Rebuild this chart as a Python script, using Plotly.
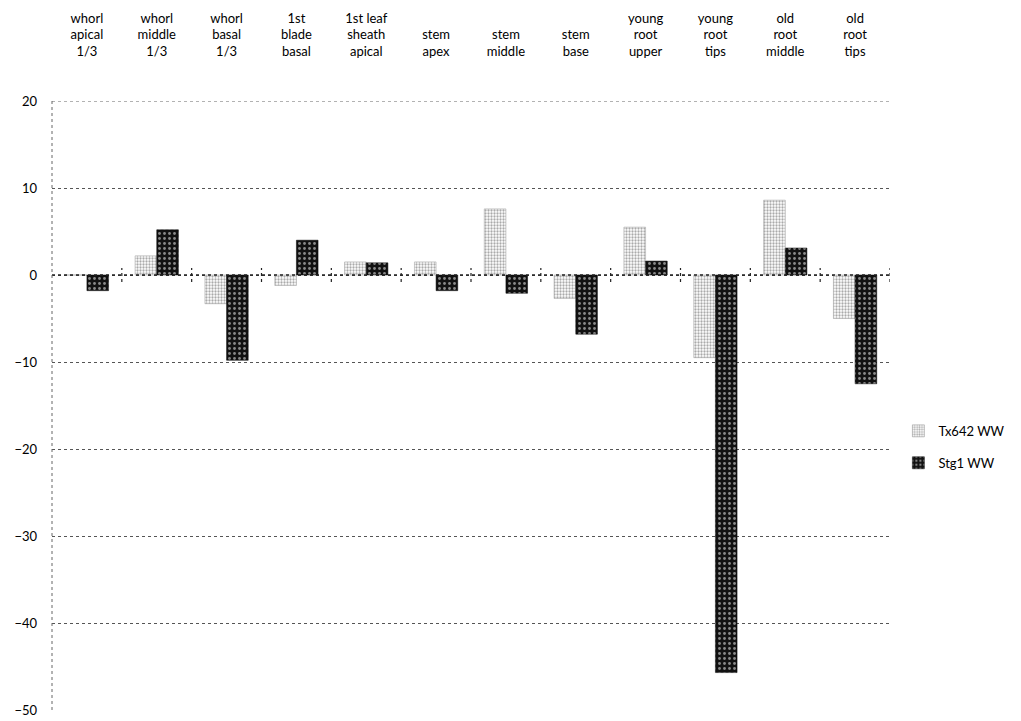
import plotly.graph_objects as go

categories = ["whorl<br>apical<br>1/3", "whorl<br>middle<br>1/3", "whorl<br>basal<br>1/3",
              "1st<br>blade<br>basal", "1st leaf<br>sheath<br>apical", "stem<br>apex",
              "stem<br>middle", "stem<br>base", "young<br>root<br>upper", "young<br>root<br>tips",
              "old<br>root<br>middle", "old<br>root<br>tips"]
tx642_ww = [0.0, 2.2, -3.3, -1.2, 1.5, 1.5, 7.6, -2.7, 5.5, -9.5, 8.6, -5.0]
stg1_ww = [-1.8, 5.2, -9.8, 4.0, 1.4, -1.8, -2.1, -6.8, 1.6, -45.7, 3.1, -12.5]
y_ticks = [20, 10, 0, -10, -20, -30, -40, -50]

idx = list(range(len(categories)))

fig = go.Figure()
fig.add_trace(go.Bar(
    x=idx, y=tx642_ww, name="Tx642 WW", legendgroup="a",
    marker=dict(color="white", line=dict(color="#999999", width=0.5),
                pattern=dict(shape=".", fgcolor="#555555", bgcolor="white", size=3, solidity=0.45)),
))
fig.add_trace(go.Bar(
    x=idx, y=stg1_ww, name="Stg1 WW", legendgroup="b",
    marker=dict(color="black", line=dict(color="black", width=0.5),
                pattern=dict(shape=".", fgcolor="white", bgcolor="#111111", size=5, solidity=0.25)),
))

shapes = [dict(type="line", xref="paper", yref="y", x0=0, x1=1, y0=0, y1=0,
               line=dict(color="#222222", width=1.5, dash="dot"))]
for i in idx:
    shapes.append(dict(type="line", xref="x", yref="y", x0=i + 0.5, x1=i + 0.5, y0=-0.8, y1=0.8,
                       line=dict(color="#222222", width=1.2, dash="dot")))
shapes.append(dict(type="line", xref="paper", yref="paper", x0=0, x1=0, y0=0, y1=1,
                   line=dict(color="#666666", width=1, dash="dot")))
shapes.append(dict(type="line", xref="paper", yref="y", x0=0, x1=1, y0=y_ticks[0], y1=y_ticks[0],
                   line=dict(color="#666666", width=1, dash="dot")))

fig.update_layout(
    width=1013, height=713,
    margin=dict(l=44, r=131, t=93, b=11, autoexpand=False),
    paper_bgcolor="white", plot_bgcolor="white",
    font=dict(family="Lato", size=13, color="#000000"),
    barmode="group", bargap=0.38, bargroupgap=0,
    shapes=shapes,
    legend=dict(x=1.01, y=0.432, xanchor="left", yanchor="middle", traceorder="grouped",
                font=dict(size=13), bgcolor="rgba(0,0,0,0)", tracegroupgap=12),
    xaxis=dict(side="top", tickmode="array", tickvals=idx, ticktext=categories,
               range=[-0.5, len(categories) - 0.5], showgrid=False, showline=False,
               ticks="", ticklabelstandoff=41, tickfont=dict(size=13), automargin=False),
    yaxis=dict(range=[-50, 20], tickvals=y_ticks, showgrid=True,
               gridcolor="#555555", griddash="dot", gridwidth=1,
               zeroline=False, showline=False, ticks="", ticklabelstandoff=14,
               tickfont=dict(size=13), automargin=False),
)

fig.write_html("out.html")
